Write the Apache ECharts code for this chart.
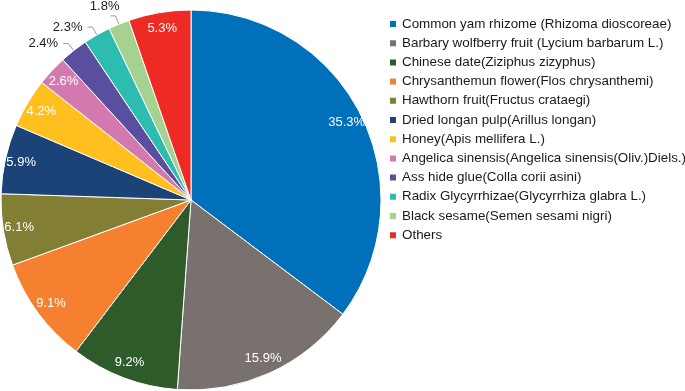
<!DOCTYPE html>
<html>
<head>
<meta charset="utf-8">
<script src="https://cdn.jsdelivr.net/npm/echarts@6/dist/echarts.min.js"></script>
<style>
html,body{margin:0;padding:0;background:#fff;}
#main{width:685px;height:391px;}
</style>
</head>
<body>
<div id="main"></div>
<script>
// 类别
var categories = [
	'Common yam rhizome (Rhizoma dioscoreae)',
	'Barbary wolfberry fruit (Lycium barbarum L.)',
	'Chinese date(Ziziphus zizyphus)',
	'Chrysanthemun flower(Flos chrysanthemi)',
	'Hawthorn fruit(Fructus crataegi)',
	'Dried longan pulp(Arillus longan)',
	'Honey(Apis mellifera L.)',
	'Angelica sinensis(Angelica sinensis(Oliv.)Diels.)',
	'Ass hide glue(Colla corii asini)',
	'Radix Glycyrrhizae(Glycyrrhiza glabra L.)',
	'Black sesame(Semen sesami nigri)',
	'Others'
];
// 百分比
var values = [35.3, 15.9, 9.2, 9.1, 6.1, 5.9, 4.2, 2.6, 2.4, 2.3, 1.8, 5.3];
var colors = ['#0070ba', '#78716e', '#2f5a2a', '#f58030', '#827f34', '#1b4378',
	'#ffbf1f', '#d479b0', '#5a4e9e', '#2dbcb0', '#a5d38f', '#ee2a24'];
// 外侧标注的扇区
var outsideNames = ['Ass hide glue(Colla corii asini)', 'Radix Glycyrrhizae(Glycyrrhiza glabra L.)', 'Black sesame(Semen sesami nigri)'];

var myChart = echarts.init(document.getElementById('main'));

var mainData = [], labelData = [];
for (var i = 0; i < categories.length; i++) {
	mainData.push({ value: values[i], name: categories[i] });
	var outside = outsideNames.indexOf(categories[i]) >= 0;
	labelData.push({
		value: values[i],
		name: categories[i],
		label: outside ? { position: 'outside', color: '#222' } : { position: 'inside', color: '#fff' },
		labelLine: { show: outside }
	});
}

var option = {
	color: colors,
	animation: false,
	legend: {
		orient: 'vertical',
		left: 383,
		top: 12,
		itemWidth: 8,
		itemHeight: 8,
		itemGap: 5.2,
		icon: 'rect',
		data: categories,
		textStyle: { fontFamily: 'Liberation Sans', fontSize: 13.4, color: '#1a1a1a', lineHeight: 14 }
	},
	series: [
		{
			name: 'main',
			type: 'pie',
			center: [191, 200],
			radius: 190,
			startAngle: 90,
			clockwise: true,
			label: { show: false },
			labelLine: { show: false },
			itemStyle: { borderColor: '#fff', borderWidth: 1 },
			emphasis: { disabled: true },
			data: mainData
		},
		{
			// 透明环, 只用来放标签
			name: 'labels',
			type: 'pie',
			center: [191, 200],
			radius: [152, 190],
			startAngle: 90,
			clockwise: true,
			silent: true,
			avoidLabelOverlap: false,
			itemStyle: { color: 'rgba(0,0,0,0)', borderWidth: 0 },
			label: {
				show: true,
				formatter: '{c}%',
				fontFamily: 'Liberation Sans',
				fontSize: 13
			},
			labelLine: {
				length: 9,
				length2: 5,
				lineStyle: { color: '#999', width: 1 }
			},
			labelLayout: function (params) {
				// 1.8% 放在线的上方
				if (params.text === '1.8%') {
					return { hideOverlap: false, dx: 14, dy: -9 };
				}
				return { hideOverlap: false };
			},
			emphasis: { disabled: true },
			data: labelData
		}
	]
};
myChart.setOption(option);
</script>
</body>
</html>
